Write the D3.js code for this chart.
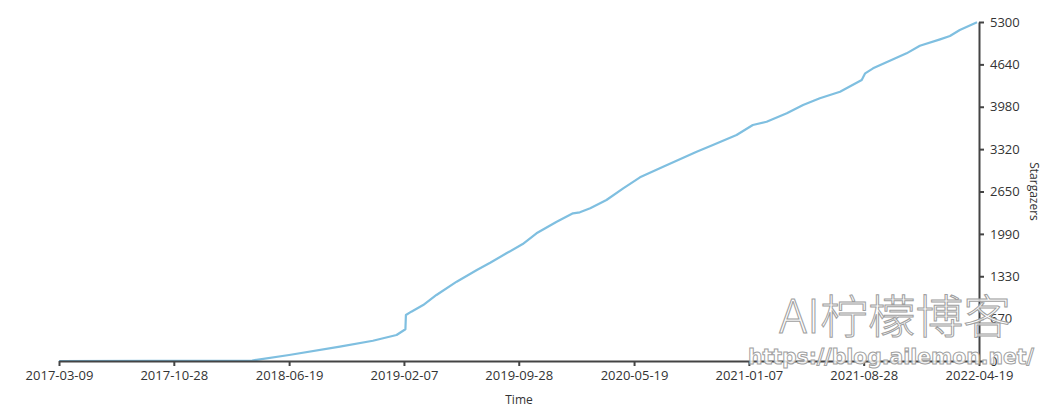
<!DOCTYPE html>
<html>
<head>
<meta charset="utf-8">
<script src="https://cdn.jsdelivr.net/npm/d3@7"></script>
<style>
  html, body { margin: 0; padding: 0; background: #fff; }
  svg { display: block; }
  .axis text { font-family: "Open Sans", "Noto Sans", sans-serif; font-size: 13px; fill: #333; }
  .axis path, .axis line { stroke: #444; stroke-width: 2; }
</style>
</head>
<body>
<svg id="chart" width="1061" height="405"></svg>
<script>
// ---- data ----
const dates = [
  "2017-03-09","2017-09-10","2018-04-05","2018-04-14","2018-06-19","2018-09-30","2018-12-06",
  "2019-01-23","2019-02-10","2019-02-11","2019-02-22","2019-03-18","2019-04-14","2019-05-25",
  "2019-07-05","2019-08-01","2019-09-03","2019-10-06","2019-11-03","2019-12-14","2020-01-16",
  "2020-01-30","2020-02-20","2020-03-24","2020-04-27","2020-05-31","2020-07-17","2020-09-23",
  "2020-10-26","2020-12-13","2021-01-15","2021-02-12","2021-03-25","2021-04-27","2021-05-31",
  "2021-07-11","2021-08-24","2021-08-31","2021-09-16","2021-10-20","2021-11-23","2021-12-20",
  "2022-01-30","2022-02-19","2022-03-11","2022-04-15"
];
const stargazers = [
  0, 3, 8, 18, 94, 224, 317,
  406, 496, 719, 771, 875, 1032, 1240,
  1423, 1537, 1684, 1829, 1997, 2178, 2309,
  2325, 2387, 2517, 2700, 2872, 3038, 3272,
  3377, 3533, 3690, 3741, 3873, 4002, 4107,
  4210, 4393, 4497, 4575, 4694, 4810, 4929,
  5029, 5081, 5175, 5298
];
const xTickLabels = ["2017-03-09","2017-10-28","2018-06-19","2019-02-07","2019-09-28",
                     "2020-05-19","2021-01-07","2021-08-28","2022-04-19"];
const yTickLabels = ["0","670","1330","1990","2650","3320","3980","4640","5300"];
const yMax = 5300;
const xTitle = "Time";
const yTitle = "Stargazers";
const watermark1 = "AI柠檬博客";
const watermark2 = "https://blog.ailemon.net/";

// ---- layout ----
const plotLeft = 59, plotRight = 979, plotTop = 22, plotBottom = 361;
const parse = d3.timeParse("%Y-%m-%d");
const fmt = d3.timeFormat("%Y-%m-%d");

const svg = d3.select("#chart");

const x = d3.scaleTime()
  .domain([parse(xTickLabels[0]), parse(xTickLabels[xTickLabels.length - 1])])
  .range([plotLeft, plotRight]);
const y = d3.scaleLinear().domain([0, yMax]).range([plotBottom, plotTop]);

const data = dates.map((d, i) => ({ date: parse(d), value: stargazers[i] }));

// line
svg.append("path")
  .datum(data)
  .attr("fill", "none")
  .attr("stroke", "#7fbfe0")
  .attr("stroke-width", 2.2)
  .attr("stroke-linejoin", "round")
  .attr("d", d3.line().x(d => x(d.date)).y(d => y(d.value)));

// x axis
const xAxis = d3.axisBottom(x)
  .tickValues(xTickLabels.map(parse))
  .tickFormat(fmt)
  .tickSize(5)
  .tickSizeOuter(0)
  .tickPadding(5);
svg.append("g").attr("class", "axis")
  .attr("transform", `translate(0,${plotBottom})`)
  .call(xAxis);

// y axis (right)
const yAxis = d3.axisRight(y)
  .tickValues(yTickLabels.map((_, i) => i * yMax / (yTickLabels.length - 1)))
  .tickFormat((_, i) => yTickLabels[i])
  .tickSize(5)
  .tickSizeOuter(0)
  .tickPadding(6);
svg.append("g").attr("class", "axis")
  .attr("transform", `translate(${plotRight},0)`)
  .call(yAxis);

// axis titles
svg.append("text")
  .attr("x", (plotLeft + plotRight) / 2).attr("y", 404)
  .attr("text-anchor", "middle")
  .style("font-family", "'Open Sans', 'Noto Sans', sans-serif")
  .style("font-size", "12px").style("fill", "#333")
  .text(xTitle);

svg.append("text")
  .attr("transform", `translate(1030,${(plotTop + plotBottom) / 2}) rotate(90)`)
  .attr("text-anchor", "middle")
  .style("font-family", "'Open Sans', 'Noto Sans', sans-serif")
  .style("font-size", "12px").style("fill", "#333")
  .text(yTitle);

// watermark
svg.append("text")
  .attr("x", 779).attr("y", 333)
  .attr("textLength", 232).attr("lengthAdjust", "spacingAndGlyphs")
  .style("font-family", "'Noto Sans CJK SC', sans-serif")
  .style("font-weight", 300)
  .style("font-size", "46px")
  .style("fill", "rgba(255,255,255,0.85)")
  .style("stroke", "#a0a0a0").style("stroke-width", 1)
  .text(watermark1);

svg.append("text")
  .attr("x", 748).attr("y", 364)
  .attr("textLength", 286).attr("lengthAdjust", "spacingAndGlyphs")
  .style("font-family", "'DejaVu Sans', sans-serif")
  .style("font-weight", "bold")
  .style("font-size", "21px")
  .style("fill", "rgba(255,255,255,0.85)")
  .style("stroke", "#a0a0a0").style("stroke-width", 1)
  .text(watermark2);
</script>
</body>
</html>
